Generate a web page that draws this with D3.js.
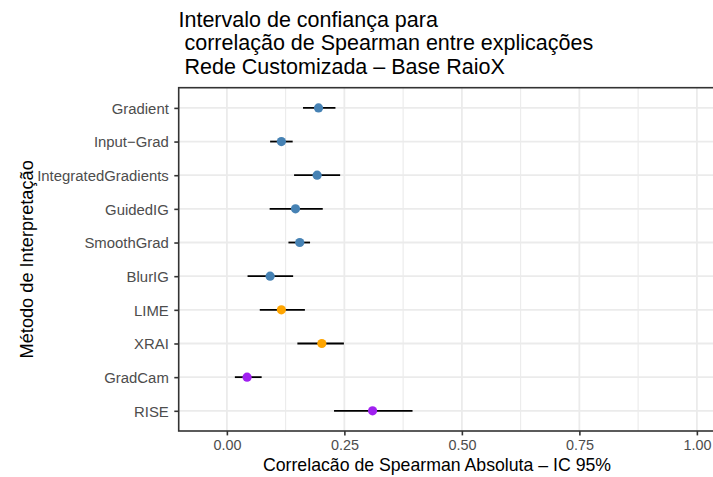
<!DOCTYPE html>
<html>
<head>
<meta charset="utf-8">
<script src="https://cdn.jsdelivr.net/npm/d3@7"></script>
<style>
  html, body { margin: 0; padding: 0; background: #ffffff; }
  svg { display: block; font-family: "Liberation Sans", Arial, Helvetica, sans-serif; }
</style>
</head>
<body>
<svg id="chart" width="713" height="477"></svg>
<script>
// Spearman correlation confidence intervals per interpretation method
const methods = ["Gradient", "Input\u2212Grad", "IntegratedGradients", "GuidedIG", "SmoothGrad",
                 "BlurIG", "LIME", "XRAI", "GradCam", "RISE"];
const estimate = [0.195, 0.116, 0.192, 0.146, 0.155, 0.092, 0.116, 0.202, 0.043, 0.310];
const lower    = [0.162, 0.092, 0.143, 0.091, 0.131, 0.044, 0.070, 0.150, 0.017, 0.228];
const upper    = [0.231, 0.140, 0.241, 0.204, 0.177, 0.141, 0.166, 0.249, 0.074, 0.395];
const group    = ["grad", "grad", "grad", "grad", "grad", "grad", "perturb", "perturb", "cam", "cam"];
const groupColor = { grad: "#4682B4", perturb: "#FFA500", cam: "#A020F0" };
const xTicks = [0, 0.25, 0.5, 0.75, 1];
const xMinor = [-0.125, 0.125, 0.375, 0.625, 0.875];
const titleLines = ["Intervalo de confiança para", " correlação de Spearman entre explicações", " Rede Customizada \u2013 Base RaioX"];
const xTitle = "Correlacão de Spearman Absoluta \u2013 IC 95%";
const yTitle = "Método de Interpretação";

const svg = d3.select("#chart");
const panel = { left: 178.7, top: 87.7, bottom: 431 };

// x limits [-0.05, 1] with 5% expansion on each side
const lim = [-0.05, 1];
const pad = 0.05 * (lim[1] - lim[0]);
const unit = 470; // pixels per unit of correlation
const x = d3.scaleLinear()
  .domain([lim[0] - pad, lim[1] + pad])
  .range([panel.left, panel.left + unit * (lim[1] - lim[0] + 2 * pad)]);
const panelRight = x.range()[1];

const y = d3.scalePoint().domain(methods).range([panel.top, panel.bottom]).padding(0.6);

const rows = methods.map((m, i) => ({ m, est: estimate[i], lo: lower[i], hi: upper[i], g: group[i] }));

// panel background
svg.append("rect")
  .attr("x", panel.left).attr("y", panel.top)
  .attr("width", panelRight - panel.left).attr("height", panel.bottom - panel.top)
  .attr("fill", "#ffffff");

// grid lines
const grid = svg.append("g");
grid.selectAll("line.minor").data(xMinor.filter(v => x(v) > panel.left)).join("line")
  .attr("x1", d => x(d)).attr("x2", d => x(d))
  .attr("y1", panel.top).attr("y2", panel.bottom)
  .attr("stroke", "#EBEBEB").attr("stroke-width", 1.1);
grid.selectAll("line.vmajor").data(xTicks).join("line")
  .attr("x1", d => x(d)).attr("x2", d => x(d))
  .attr("y1", panel.top).attr("y2", panel.bottom)
  .attr("stroke", "#EBEBEB").attr("stroke-width", 1.8);
grid.selectAll("line.hmajor").data(methods).join("line")
  .attr("x1", panel.left).attr("x2", panelRight)
  .attr("y1", d => y(d)).attr("y2", d => y(d))
  .attr("stroke", "#EBEBEB").attr("stroke-width", 1.8);

// confidence intervals
svg.append("g").selectAll("line").data(rows).join("line")
  .attr("x1", d => x(d.lo)).attr("x2", d => x(d.hi))
  .attr("y1", d => y(d.m)).attr("y2", d => y(d.m))
  .attr("stroke", "#000000").attr("stroke-width", 1.8);

// point estimates
svg.append("g").selectAll("circle").data(rows).join("circle")
  .attr("cx", d => x(d.est)).attr("cy", d => y(d.m))
  .attr("r", 4.6)
  .attr("fill", d => groupColor[d.g]);

// panel border
svg.append("rect")
  .attr("x", panel.left).attr("y", panel.top)
  .attr("width", panelRight - panel.left).attr("height", panel.bottom - panel.top)
  .attr("fill", "none").attr("stroke", "#333333").attr("stroke-width", 1.6);

// axes
const xAxis = svg.append("g")
  .attr("transform", `translate(0,${panel.bottom})`)
  .call(d3.axisBottom(x).tickValues(xTicks).tickFormat(d3.format(".2f")).tickSize(4.4).tickPadding(3.5));
const yAxis = svg.append("g")
  .attr("transform", `translate(${panel.left},0)`)
  .call(d3.axisLeft(y).tickSize(4.4).tickPadding(5.5));
[xAxis, yAxis].forEach(a => {
  a.select(".domain").remove();
  a.selectAll(".tick line").attr("stroke", "#333333").attr("stroke-width", 1.6);
  a.selectAll(".tick text").attr("fill", "#4D4D4D")
    .style("font-family", "'Liberation Sans', Arial, sans-serif");
});
xAxis.selectAll(".tick text").attr("dy", "0.76em").style("font-size", "14.4px");
yAxis.selectAll(".tick text").attr("dy", "0.35em").style("font-size", "14.9px");

// titles
svg.append("g").selectAll("text").data(titleLines).join("text")
  .attr("x", 178.5)
  .attr("y", (d, i) => 26.7 + i * 23.65)
  .style("white-space", "pre")
  .attr("xml:space", "preserve")
  .style("font-size", "21.5px")
  .attr("fill", "#000000")
  .text(d => d);

svg.append("text")
  .attr("x", 437).attr("y", 470.8)
  .attr("text-anchor", "middle")
  .style("font-size", "17.7px")
  .attr("fill", "#000000")
  .text(xTitle);

svg.append("text")
  .attr("transform", `translate(32.5,${(panel.top + panel.bottom) / 2}) rotate(-90)`)
  .attr("text-anchor", "middle")
  .style("font-size", "18.2px")
  .attr("fill", "#000000")
  .text(yTitle);
</script>
</body>
</html>
